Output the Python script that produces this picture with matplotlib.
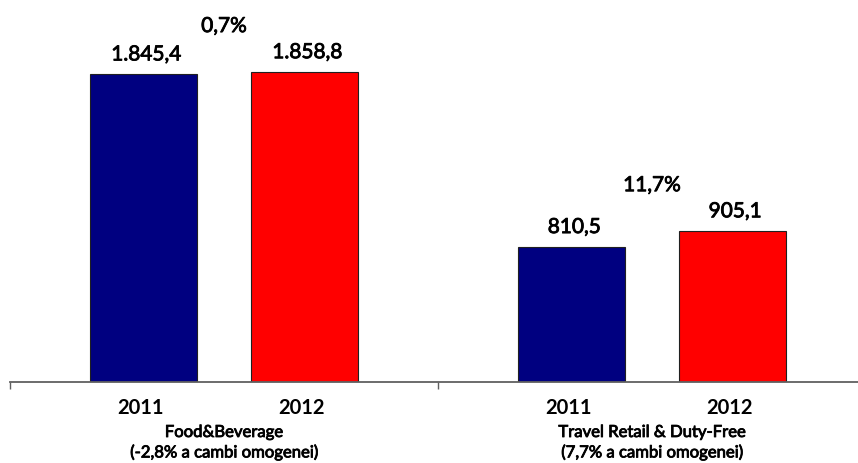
import matplotlib
matplotlib.use("Agg")
import matplotlib.pyplot as plt
import matplotlib.patheffects as pe

plt.rcParams['font.family'] = ['Lato', 'DejaVu Sans']

segments = ["Food&Beverage", "Travel Retail & Duty-Free"]
segment_notes = ["(-2,8% a cambi omogenei)", "(7,7% a cambi omogenei)"]
years = ["2011", "2012"]
sales_2011 = [1845.4, 810.5]
sales_2012 = [1858.8, 905.1]
growth = ["0,7%", "11,7%"]

colors = ["#000080", "#FF0000"]

# slightly heavier strokes for the labels
thick = [pe.withStroke(linewidth=0.6, foreground="black")]


def it_fmt(v):
    # italian style: dot for thousands, comma for decimals
    s = "{:,.1f}".format(v)
    return s.replace(",", "X").replace(".", ",").replace("X", ".")


fig = plt.figure(figsize=(8.58, 4.63), dpi=100)
ax = fig.add_axes([10 / 858, 81 / 463, 856 / 858, 382 / 463])

offset = 0.188
width = 0.252
for series, (vals, col) in enumerate(zip([sales_2011, sales_2012], colors)):
    xs = [i + (offset if series else -offset) for i in range(len(segments))]
    ax.bar(xs, vals, width=width, color=col, edgecolor="#202020", linewidth=0.8)
    for x, v in zip(xs, vals):
        ax.annotate(it_fmt(v), xy=(x, v), xytext=(2, 7), textcoords="offset points",
                    ha="center", va="bottom", fontsize=15, path_effects=thick)
        ax.annotate(years[series], xy=(x, 0), xycoords=("data", "axes fraction"),
                    xytext=(-2, -19), textcoords="offset points",
                    ha="center", va="center", fontsize=14.5, fontweight="bold")

for i, g in enumerate(growth):
    top = max(sales_2011[i], sales_2012[i])
    ax.annotate(g, xy=(i, top), xytext=(0, 33), textcoords="offset points",
                ha="center", va="center", fontsize=15, path_effects=thick)
    ax.annotate(segments[i], xy=(i, 0), xycoords=("data", "axes fraction"),
                xytext=(0, -36), textcoords="offset points",
                ha="center", va="center", fontsize=12, path_effects=thick)
    ax.annotate(segment_notes[i], xy=(i, 0), xycoords=("data", "axes fraction"),
                xytext=(0, -50.5), textcoords="offset points",
                ha="center", va="center", fontsize=12, path_effects=thick)

ax.set_xlim(-0.5, 1.5)
ax.set_ylim(0, 2290)
ax.set_xticks([-0.5, 0.5, 1.5])
ax.set_xticklabels([])
ax.tick_params(axis="x", length=5, width=1, color="#606060", direction="out")
ax.set_yticks([])
for side in ["left", "top", "right"]:
    ax.spines[side].set_visible(False)
ax.spines["bottom"].set_color("#606060")
ax.spines["bottom"].set_linewidth(1.3)
ax.patch.set_visible(False)

fig.savefig("out.png", dpi=100)
